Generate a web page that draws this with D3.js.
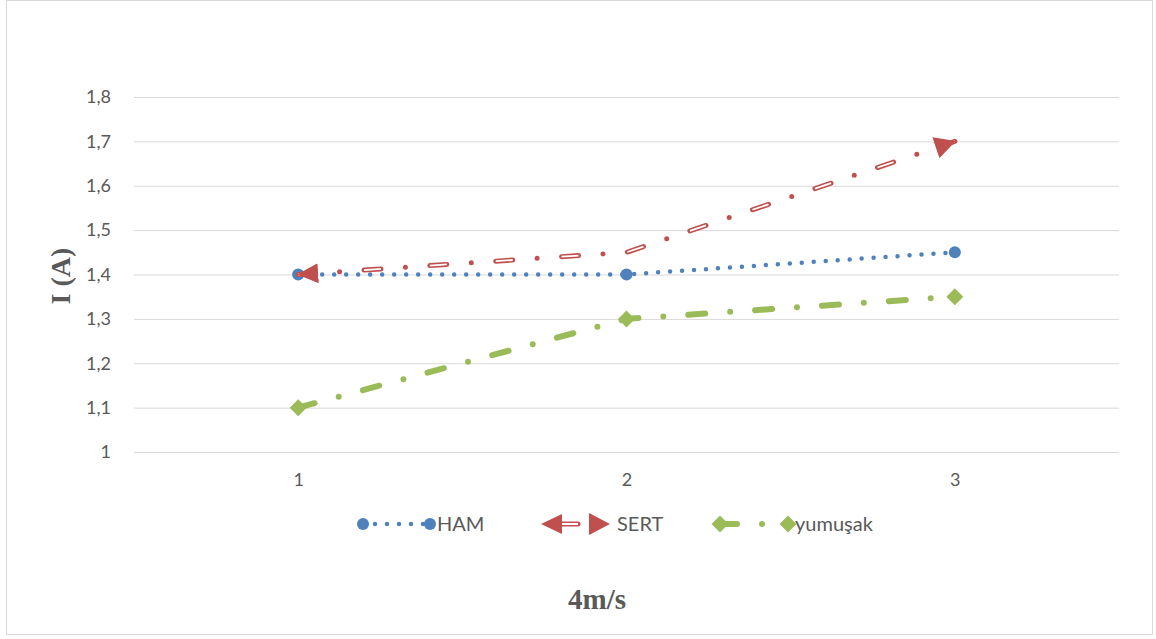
<!DOCTYPE html>
<html>
<head>
<meta charset="utf-8">
<script src="https://cdn.jsdelivr.net/npm/d3@7"></script>
<style>
  body { margin: 0; background: #fff; }
  svg { display: block; }
</style>
</head>
<body>
<div id="chart"></div>
<script>
// chart data
const categories = [1, 2, 3];
const hamValues = [1.4, 1.4, 1.45];
const sertValues = [1.4, 1.45, 1.7];
const yumusakValues = [1.1, 1.3, 1.35];
const seriesNames = ['HAM', 'SERT', 'yumuşak'];
const yDomain = [1, 1.8];

const width = 1156, height = 639;
const plot = { left: 134, right: 1119, top: 97, bottom: 452 };

const blue = '#4F81BD', red = '#C0504D', green = '#9BBB59';
const textColor = '#595959', gridColor = '#D9D9D9';
const sansFont = 'Lato, "Open Sans", sans-serif';
const serifFont = '"Liberation Serif", "DejaVu Serif", serif';

const svg = d3.select('#chart').append('svg')
    .attr('width', width)
    .attr('height', height);

// outer chart border
svg.append('rect')
    .attr('x', 6.5).attr('y', 0.5)
    .attr('width', 1146).attr('height', 634)
    .attr('fill', '#fff')
    .attr('stroke', gridColor);

const x = d3.scalePoint().domain(categories).range([plot.left, plot.right]).padding(0.5);
const y = d3.scaleLinear().domain(yDomain).range([plot.bottom, plot.top]);

const locale = d3.formatLocale({ decimal: ',', thousands: '.', grouping: [3], currency: ['', ''] });
const fmt = locale.format('.1~f');

// markers for SERT arrows
const defs = svg.append('defs');
defs.append('marker')
    .attr('id', 'arrowStart')
    .attr('markerUnits', 'userSpaceOnUse')
    .attr('viewBox', '0 -11 22 22')
    .attr('refX', 20).attr('refY', 0)
    .attr('markerWidth', 22).attr('markerHeight', 22)
    .attr('orient', 'auto-start-reverse')
    .append('path').attr('d', 'M0,-10L21,0L0,10Z').attr('fill', red);
defs.append('marker')
    .attr('id', 'arrowEnd')
    .attr('markerUnits', 'userSpaceOnUse')
    .attr('viewBox', '0 -12 22 24')
    .attr('refX', 20).attr('refY', 0)
    .attr('markerWidth', 22).attr('markerHeight', 24)
    .attr('orient', 'auto')
    .append('path').attr('d', 'M0,-11L21,0L0,11Z').attr('fill', red);

// y axis: gridlines + labels
const yAxis = d3.axisLeft(y)
    .ticks(8)
    .tickSize(-(plot.right - plot.left))
    .tickPadding(23)
    .tickFormat(fmt);
const gy = svg.append('g')
    .attr('transform', `translate(${plot.left},0)`)
    .call(yAxis);
gy.select('.domain').remove();
gy.selectAll('.tick line').attr('stroke', gridColor).attr('stroke-width', 1);
gy.selectAll('.tick text')
    .attr('fill', textColor)
    .style('font-family', sansFont)
    .style('font-size', '18px');

// x axis labels
const xAxis = d3.axisBottom(x).tickSize(0).tickPadding(21);
const gx = svg.append('g')
    .attr('transform', `translate(0,${plot.bottom})`)
    .call(xAxis);
gx.select('.domain').remove();
gx.selectAll('.tick text')
    .attr('fill', textColor)
    .style('font-family', sansFont)
    .style('font-size', '18px');

// axis titles
svg.append('text')
    .attr('transform', 'translate(60,276) rotate(-90)')
    .attr('text-anchor', 'middle')
    .attr('dy', '0.35em')
    .attr('fill', textColor)
    .style('font-family', serifFont)
    .style('font-weight', 'bold')
    .style('font-size', '28px')
    .text('I (A)');

svg.append('text')
    .attr('x', 597).attr('y', 609)
    .attr('text-anchor', 'middle')
    .attr('fill', textColor)
    .style('font-family', serifFont)
    .style('font-weight', 'bold')
    .style('font-size', '29px')
    .text('4m/s');

const line = d3.line().x(d => x(d.c)).y(d => y(d.v));
const toPts = vals => categories.map((c, i) => ({ c: c, v: vals[i] }));

// style helpers, also used for legend samples
function drawHam(g, pts, path) {
  g.append('path').attr('d', path(pts))
      .attr('fill', 'none').attr('stroke', blue)
      .attr('stroke-width', 4.5).attr('stroke-linecap', 'round')
      .attr('stroke-dasharray', '0 12');
}
function hamMarker(g, px, py) {
  g.append('circle').attr('cx', px).attr('cy', py).attr('r', 6).attr('fill', blue);
}
function drawSert(g, pts, path, offset) {
  g.append('path').attr('d', path(pts))
      .attr('fill', 'none').attr('stroke', red)
      .attr('stroke-width', 5).attr('stroke-linecap', 'round')
      .attr('stroke-dasharray', '17 24.5 0 24.5')
      .attr('stroke-dashoffset', offset || 0);
  g.append('path').attr('d', path(pts))
      .attr('fill', 'none').attr('stroke', '#fff')
      .attr('stroke-width', 1.8).attr('stroke-linecap', 'butt')
      .attr('stroke-dasharray', '17 24.5 0 24.5')
      .attr('stroke-dashoffset', offset || 0);
  g.append('path').attr('d', path(pts))
      .attr('fill', 'none').attr('stroke', 'none')
      .attr('marker-start', 'url(#arrowStart)')
      .attr('marker-end', 'url(#arrowEnd)');
}
function drawGreen(g, pts, path) {
  g.append('path').attr('d', path(pts))
      .attr('fill', 'none').attr('stroke', green)
      .attr('stroke-width', 6).attr('stroke-linecap', 'round')
      .attr('stroke-dasharray', '17 25 0 25');
}
function greenMarker(g, px, py) {
  const s = 8.5;
  g.append('path')
      .attr('d', `M${px},${py - s}L${px + s},${py}L${px},${py + s}L${px - s},${py}Z`)
      .attr('fill', green);
}

const series = svg.append('g');

// yumuşak
const gGreen = series.append('g');
drawGreen(gGreen, toPts(yumusakValues), line);
toPts(yumusakValues).forEach(d => greenMarker(gGreen, x(d.c), y(d.v)));

// HAM
const gHam = series.append('g');
drawHam(gHam, toPts(hamValues), line);
toPts(hamValues).forEach(d => hamMarker(gHam, x(d.c), y(d.v)));

// SERT
const gSert = series.append('g');
drawSert(gSert, toPts(sertValues), line);

// legend
const legendY = 524;
const legLine = d3.line().x(d => d[0]).y(d => d[1]);
const legend = svg.append('g');
const legendItems = [
  { name: seriesNames[0], x0: 363, x1: 430 },
  { name: seriesNames[1], x0: 542, x1: 609 },
  { name: seriesNames[2], x0: 720, x1: 788 }
];

legendItems.forEach((item, i) => {
  const g = legend.append('g');
  const pts = [[item.x0, legendY], [item.x1, legendY]];
  if (i === 0) {
    drawHam(g, pts, legLine);
    hamMarker(g, item.x0, legendY);
    hamMarker(g, item.x1, legendY);
  } else if (i === 1) {
    drawSert(g, pts, legLine, -19);
  } else {
    drawGreen(g, pts, legLine);
    greenMarker(g, item.x0, legendY);
    greenMarker(g, item.x1, legendY);
  }
  g.append('text')
      .attr('x', item.x1 + (i === 1 ? 8 : 7)).attr('y', legendY)
      .attr('dy', '0.35em')
      .attr('fill', textColor)
      .style('font-family', sansFont)
      .style('font-size', '20px')
      .text(item.name);
});
</script>
</body>
</html>
